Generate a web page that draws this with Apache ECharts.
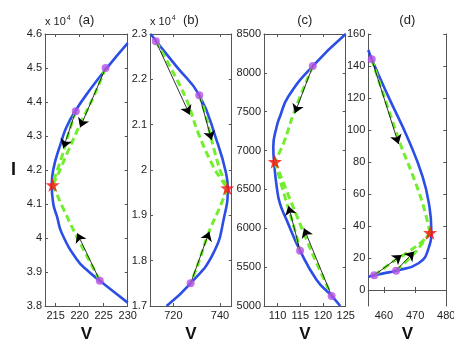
<!DOCTYPE html>
<html>
<head>
<meta charset="utf-8">
<script src="https://cdn.jsdelivr.net/npm/echarts@6/dist/echarts.min.js"></script>
<style>
  html, body { margin: 0; padding: 0; background: #fff; }
  #chart { width: 454px; height: 341px; }
</style>
</head>
<body>
<div id="chart"></div>
<script>
// ---- data: [V, I] pairs ----
// panel (a)
const curveA = [[230, 45730], [225.6, 44990], [222.1, 44350], [219.1, 43735], [217.3, 43270], [216.3, 42880],
  [214.5, 42000], [214.2, 41560], [214.5, 41020], [215.3, 40630], [216.3, 40140], [219.5, 39350], [221.8, 39020],
  [224.2, 38744], [230, 38100]];
const dotsA = [[225.4, 45000], [219.2, 43730], [224.2, 38745]];
const starA = [214.4, 41560];
const greenA = [
  [[225.4, 45000], [222.9, 44156], [220.2, 43374], [217.7, 42588], [215.6, 41903], [214.4, 41560]],
  [[219.2, 43730], [217.7, 43080], [216.3, 42390], [214.9, 41803], [214.4, 41560]],
  [[214.4, 41560], [217.7, 40530], [220.5, 39745], [224.2, 38745]]
];
const arrowsA = [[[225.4, 45000], [220.1, 43250]], [[219.2, 43730], [216.6, 42640]], [[224.2, 38745], [219.5, 40140]]];

// panel (b)
const curveB = [[710.3, 23000], [712.6, 22846], [721.4, 22280], [731.1, 21650], [738.5, 20660], [742.6, 19930],
  [743.3, 19600], [741.8, 18970], [737.1, 18160], [727.4, 17500], [717.1, 17000]];
const dotsB = [[712.5, 22840], [731.1, 21650], [727.4, 17500]];
const starB = [743.1, 19600];
const greenB = [
  [[712.5, 22840], [718.6, 22279], [725.7, 21544], [730.7, 20809], [737.1, 20074], [740.7, 19780], [743.1, 19600]],
  [[731.1, 21650], [733.6, 21250], [735.7, 20809], [737.9, 20368], [740, 20000], [743.1, 19600]],
  [[743.1, 19600], [740, 19190], [735, 18600], [730.7, 17941], [727.4, 17500]]
];
const arrowsB = [[[712.5, 22840], [727, 21220]], [[731.1, 21650], [736.4, 20660]], [[727.4, 17500], [735.4, 18640]]];

// panel (c)
const curveC = [[123.8, 5000], [121.9, 5130], [118.6, 5336], [114.95, 5712], [112.0, 6105], [110.5, 6320],
  [109.8, 6534], [109.3, 6800], [109.05, 7050], [109.8, 7310], [110.5, 7436], [112.36, 7695],
  [117.75, 8088], [125, 8500]];
const dotsC = [[117.75, 8088], [114.95, 5712], [121.9, 5130]];
const starC = [109.4, 6857];
const greenC = [
  [[117.75, 8088], [113.8, 7522], [111.3, 7094], [109.4, 6857]],
  [[109.4, 6857], [111.6, 6406], [113.8, 5977], [114.95, 5712]],
  [[109.4, 6857], [113.1, 6320], [116.4, 5849], [118.6, 5550], [121.9, 5130]]
];
const arrowsC = [[[117.75, 8088], [113.8, 7480]], [[114.95, 5712], [112.4, 6286]], [[121.9, 5130], [115.8, 6000]]];

// panel (d)
const curveD = [[455, 150], [456.1, 144.2], [461.4, 121], [467.9, 93.75], [472.4, 70.8], [474.6, 52], [475.2, 37.5],
  [474.3, 26], [471.1, 16.7], [463.9, 12.1], [459.8, 10.4], [456.9, 9.2], [455, 8.3]];
const dotsD = [[456.1, 144.2], [456.9, 9.2], [463.9, 12.1]];
const starD = [474.8, 35.8];
const greenD = [
  [[456.1, 144.2], [465.2, 91.7], [469, 72.9], [472.4, 54.2], [474.8, 35.8]],
  [[456.9, 9.2], [461.4, 15.6], [467.9, 24], [472.2, 30.2], [474.8, 35.8]],
  [[463.9, 12.1], [469, 21.25], [472.7, 30.2], [474.8, 35.8]]
];
const arrowsD = [[[456.1, 144.2], [464.7, 91.25]], [[456.9, 9.2], [465.7, 21.9]], [[463.9, 12.1], [469.7, 24]]];

// ---- axes ranges and tick labels ----
const xRanges = [[212.8, 230], [710, 745], [107, 125], [455, 480]];
const yRanges = [[38000, 46000], [17000, 23000], [5000, 8500], [-10, 160]];
const xTicks = [[215, 220, 225, 230], [720, 740], [110, 115, 120, 125], [460, 470, 480]];
const yTicks = [
  [38000, 39000, 40000, 41000, 42000, 43000, 44000, 45000, 46000],
  [17000, 18000, 19000, 20000, 21000, 22000, 23000],
  [5000, 5500, 6000, 6500, 7000, 7500, 8000, 8500],
  [0, 20, 40, 60, 80, 100, 120, 140, 160]
];
const yScale = [1e4, 1e4, 1, 1];
const panelNames = ['(a)', '(b)', '(c)', '(d)'];

const curves = [curveA, curveB, curveC, curveD];
const dots = [dotsA, dotsB, dotsC, dotsD];
const stars = [starA, starB, starC, starD];
const greens = [greenA, greenB, greenC, greenD];
const arrows = [arrowsA, arrowsB, arrowsC, arrowsD];

// layout
const panels = [
  { left: 45, width: 82.7 },
  { left: 150, width: 81.7 },
  { left: 264, width: 81.7 },
  { left: 368.3, width: 78 }
];
const TOP = 34, HEIGHT = 272;
const axisGray = '#555';
const starPath = 'path://M0,-10L2.35,-3.24L9.51,-3.09L3.8,1.24L5.88,8.09L0,4L-5.88,8.09L-3.8,1.24L-9.51,-3.09L-2.35,-3.24Z';

let myChart = echarts.init(document.getElementById('chart'));

let grids = [], xAxes = [], yAxes = [], series = [], graphics = [];

panels.forEach((p, i) => {
  grids.push({ left: p.left, top: TOP, width: p.width, height: HEIGHT, outerBoundsMode: 'none' });

  let tickStyle = { inside: true, length: 3, lineStyle: { color: axisGray } };
  let lineStyle = { lineStyle: { color: axisGray, width: 1 } };

  // bottom + top x axes
  xAxes.push({
    type: 'value', gridIndex: i, min: xRanges[i][0], max: xRanges[i][1],
    axisLine: Object.assign({ show: true }, lineStyle),
    axisTick: Object.assign({ customValues: xTicks[i] }, tickStyle),
    axisLabel: { customValues: xTicks[i], color: '#222', fontSize: 11, margin: 4, fontFamily: 'Liberation Sans' },
    splitLine: { show: false },
    name: 'V', nameLocation: 'middle', nameGap: 20,
    nameTextStyle: { fontSize: 17, fontWeight: 'bold', color: '#111', fontFamily: 'Liberation Sans' }
  });
  xAxes.push({
    type: 'value', gridIndex: i, position: 'top', min: xRanges[i][0], max: xRanges[i][1],
    axisLine: Object.assign({ show: true }, lineStyle),
    axisTick: Object.assign({ customValues: xTicks[i] }, tickStyle),
    axisLabel: { show: false },
    splitLine: { show: false }
  });

  // left + right y axes
  let yLeft = {
    type: 'value', gridIndex: i, min: yRanges[i][0], max: yRanges[i][1],
    axisLine: Object.assign({ show: true }, lineStyle),
    axisTick: Object.assign({ customValues: yTicks[i] }, tickStyle),
    axisLabel: {
      customValues: yTicks[i], color: '#222', fontSize: 11, margin: 3, fontFamily: 'Liberation Sans',
      formatter: (v) => String(Math.round(v / yScale[i] * 100) / 100)
    },
    splitLine: { show: false }
  };
  if (i === 0) {
    yLeft.name = 'I';
    yLeft.nameLocation = 'middle';
    yLeft.nameRotate = 0;
    yLeft.nameGap = 29;
    yLeft.nameTextStyle = { fontSize: 18, fontWeight: 'bold', color: '#111', fontFamily: 'Liberation Sans' };
  }
  yAxes.push(yLeft);
  yAxes.push({
    type: 'value', gridIndex: i, position: 'right', min: yRanges[i][0], max: yRanges[i][1],
    axisLine: Object.assign({ show: true }, lineStyle),
    axisTick: Object.assign({ customValues: yTicks[i] }, tickStyle),
    axisLabel: { show: false },
    splitLine: { show: false }
  });

  let xi = i * 2, yi = i * 2;

  // blue curve
  series.push({
    type: 'line', xAxisIndex: xi, yAxisIndex: yi, data: curves[i], smooth: 0.5,
    showSymbol: false, symbol: 'none', z: 2, animation: false,
    lineStyle: { color: '#2b4ee6', width: 2.6 }
  });

  // green dashed paths
  greens[i].forEach((g) => {
    series.push({
      type: 'line', xAxisIndex: xi, yAxisIndex: yi, data: g, smooth: 0.4,
      showSymbol: false, symbol: 'none', z: 3, animation: false,
      lineStyle: { color: '#72ee2e', width: 3, type: [7, 4] }
    });
  });

  // black arrows
  series.push({
    type: 'line', xAxisIndex: xi, yAxisIndex: yi, data: [], z: 4, animation: false,
    markLine: {
      silent: true, animation: false, symbol: ['none', 'arrow'], symbolSize: 9,
      label: { show: false },
      lineStyle: { color: '#000', width: 0.8, type: 'solid' },
      data: arrows[i].map((a) => [{ coord: a[0] }, { coord: a[1] }])
    }
  });

  // purple dots
  series.push({
    type: 'scatter', xAxisIndex: xi, yAxisIndex: yi, data: dots[i], symbolSize: 8, z: 5,
    itemStyle: { color: '#b44ee8' }, animation: false
  });

  // red star
  series.push({
    type: 'scatter', xAxisIndex: xi, yAxisIndex: yi, data: [stars[i]], symbol: starPath, symbolSize: 14, z: 6,
    itemStyle: { color: '#ff1010' }, animation: false
  });

  // panel title
  graphics.push({
    type: 'text', x: p.left + p.width / 2, y: 14,
    style: { text: panelNames[i], fontSize: 13, fill: '#222', align: 'center', fontFamily: 'Liberation Sans' }
  });
  if (yScale[i] !== 1) {
    graphics.push({
      type: 'text', x: p.left, y: 15,
      style: {
        text: 'x 10{s|4}', fontSize: 11, fill: '#222', fontFamily: 'Liberation Sans',
        rich: { s: { fontSize: 7, verticalAlign: 'top', padding: [0, 0, 6, 1] } }
      }
    });
  }
});

let option = {
  backgroundColor: '#fff',
  animation: false,
  grid: grids,
  xAxis: xAxes,
  yAxis: yAxes,
  series: series,
  graphic: graphics
};
myChart.setOption(option);
</script>
</body>
</html>
